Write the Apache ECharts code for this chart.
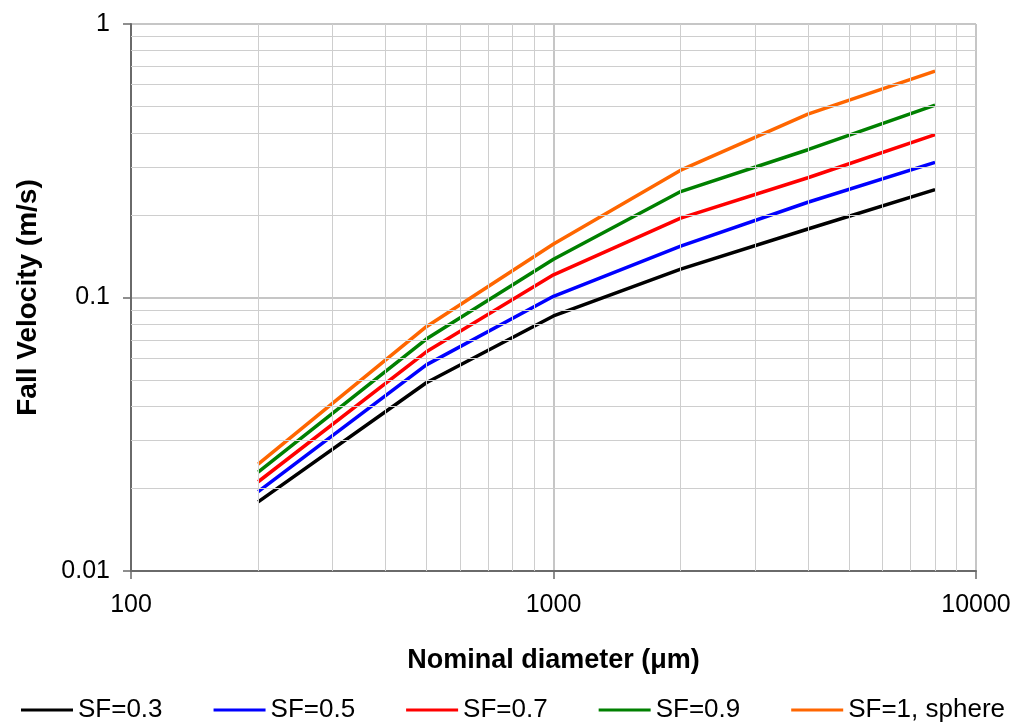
<!DOCTYPE html>
<html>
<head>
<meta charset="utf-8">
<script src="https://cdn.jsdelivr.net/npm/echarts@6/dist/echarts.min.js"></script>
<style>
html,body{margin:0;padding:0;background:#fff;}
#chart{width:1018px;height:724px;}
</style>
</head>
<body>
<div id="chart"></div>
<script>
// Data
var diameters = [200, 500, 1000, 2000, 4000, 8000];
var sf03 = [0.0179, 0.0488, 0.0856, 0.127, 0.178, 0.248];
var sf05 = [0.0195, 0.0567, 0.101, 0.154, 0.223, 0.312];
var sf07 = [0.0212, 0.0633, 0.121, 0.195, 0.274, 0.394];
var sf09 = [0.0230, 0.0705, 0.138, 0.244, 0.347, 0.505];
var sf10 = [0.0246, 0.0782, 0.157, 0.292, 0.468, 0.673];
var seriesNames = ['SF=0.3', 'SF=0.5', 'SF=0.7', 'SF=0.9', 'SF=1, sphere'];
var seriesColors = ['#000000', '#0000ff', '#ff0000', '#008000', '#ff6600'];
var minorX = [200, 300, 400, 500, 600, 700, 800, 900, 2000, 3000, 4000, 5000, 6000, 7000, 8000, 9000];
var minorY = [0.02, 0.03, 0.04, 0.05, 0.06, 0.07, 0.08, 0.09, 0.2, 0.3, 0.4, 0.5, 0.6, 0.7, 0.8, 0.9];

var allValues = [sf03, sf05, sf07, sf09, sf10];
var FONT = '"Liberation Sans", Arial, sans-serif';

function pairs(vals) {
  return diameters.map(function (d, i) { return [d, vals[i]]; });
}
function fmt(v) { return String(parseFloat(Number(v).toPrecision(6))); }

var series = [{
  name: 'minor',
  type: 'line',
  data: [],
  z: 1,
  silent: true,
  markLine: {
    silent: true,
    symbol: ['none', 'none'],
    label: { show: false },
    emphasis: { disabled: true },
    animation: false,
    lineStyle: { color: '#cecece', width: 1, type: 'solid' },
    data: minorX.map(function (v) { return { xAxis: v }; })
      .concat(minorY.map(function (v) { return { yAxis: v }; }))
  }
}];
allValues.forEach(function (vals, i) {
  series.push({
    name: seriesNames[i],
    type: 'line',
    data: pairs(vals),
    showSymbol: false,
    symbol: 'none',
    z: 3,
    lineStyle: { color: seriesColors[i], width: 3.5 },
    itemStyle: { color: seriesColors[i] },
    emphasis: { disabled: true }
  });
});

var chart = echarts.init(document.getElementById('chart'), null, { renderer: 'canvas' });
chart.setOption({
  animation: false,
  backgroundColor: '#ffffff',
  textStyle: { fontFamily: FONT },
  grid: { left: 131, right: 42, top: 24, bottom: 153, containLabel: false },
  legend: {
    data: seriesNames,
    left: 16,
    top: 692,
    icon: 'rect',
    itemWidth: 52,
    itemHeight: 3,
    itemGap: 51,
    textStyle: { fontFamily: FONT, fontSize: 26, color: '#000' }
  },
  xAxis: {
    type: 'log',
    logBase: 10,
    min: 100,
    max: 10000,
    name: 'Nominal diameter (μm)',
    nameLocation: 'middle',
    nameGap: 76,
    nameTextStyle: { fontFamily: FONT, fontSize: 27, fontWeight: 'bold', color: '#000' },
    axisLine: { show: true, lineStyle: { color: '#6a6a6a', width: 2 } },
    axisTick: { show: true, inside: false, length: 8, lineStyle: { color: '#6a6a6a', width: 1.5 } },
    axisLabel: { fontFamily: FONT, fontSize: 25, color: '#000', margin: 22, formatter: fmt },
    splitLine: { show: true, lineStyle: { color: '#c6c6c6', width: 2 } },
    minorTick: { show: false },
    minorSplitLine: { show: false }
  },
  yAxis: {
    type: 'log',
    logBase: 10,
    min: 0.01,
    max: 1,
    name: 'Fall Velocity (m/s)',
    nameLocation: 'middle',
    nameGap: 89,
    nameTextStyle: { fontFamily: FONT, fontSize: 28, fontWeight: 'bold', color: '#000' },
    axisLine: { show: true, lineStyle: { color: '#6a6a6a', width: 2 } },
    axisTick: { show: true, inside: false, length: 8, lineStyle: { color: '#6a6a6a', width: 1.5 } },
    axisLabel: { fontFamily: FONT, fontSize: 25, color: '#000', margin: 21, formatter: fmt },
    splitLine: { show: true, lineStyle: { color: '#c6c6c6', width: 2 } },
    minorTick: { show: false },
    minorSplitLine: { show: false }
  },
  series: series
});
</script>
</body>
</html>
